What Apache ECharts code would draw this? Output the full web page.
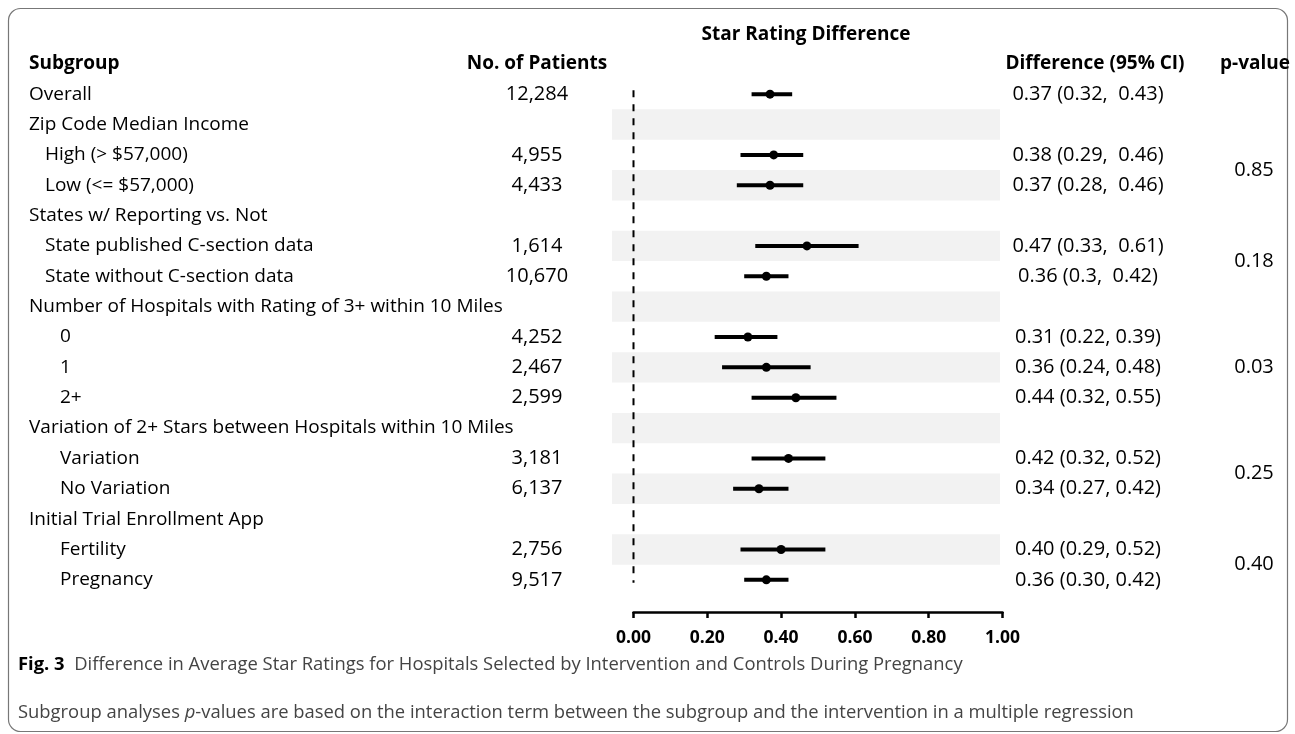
<!DOCTYPE html>
<html>
<head>
<meta charset="utf-8">
<title>Star Rating Difference</title>
<script src="https://cdn.jsdelivr.net/npm/echarts@6/dist/echarts.min.js"></script>
<style>
html, body { margin: 0; padding: 0; background: #fff; }
#chart { width: 1295px; height: 734px; }
</style>
</head>
<body>
<div id="chart"></div>
<script>
// rows, top to bottom
var subgroups = ['Overall', 'Zip Code Median Income', 'High (> $57,000)', 'Low (<= $57,000)',
  'States w/ Reporting vs. Not', 'State published C-section data', 'State without C-section data',
  'Number of Hospitals with Rating of 3+ within 10 Miles', '0', '1', '2+',
  'Variation of 2+ Stars between Hospitals within 10 Miles', 'Variation', 'No Variation',
  'Initial Trial Enrollment App', 'Fertility', 'Pregnancy'];
var indent = [0, 0, 1, 1, 0, 1, 1, 0, 2, 2, 2, 0, 2, 2, 0, 2, 2];
var patients = ['12,284', '', '4,955', '4,433', '', '1,614', '10,670', '', '4,252', '2,467', '2,599',
  '', '3,181', '6,137', '', '2,756', '9,517'];
var estimate = [0.37, null, 0.38, 0.37, null, 0.47, 0.36, null, 0.31, 0.36, 0.44, null, 0.42, 0.34, null, 0.40, 0.36];
var lower    = [0.32, null, 0.29, 0.28, null, 0.33, 0.30, null, 0.22, 0.24, 0.32, null, 0.32, 0.27, null, 0.29, 0.30];
var upper    = [0.43, null, 0.46, 0.46, null, 0.61, 0.42, null, 0.39, 0.48, 0.55, null, 0.52, 0.42, null, 0.52, 0.42];
var diffLabels = ['0.37 (0.32,  0.43)', '', '0.38 (0.29,  0.46)', '0.37 (0.28,  0.46)', '',
  '0.47 (0.33,  0.61)', '0.36 (0.3,  0.42)', '', '0.31 (0.22, 0.39)', '0.36 (0.24, 0.48)',
  '0.44 (0.32, 0.55)', '', '0.42 (0.32, 0.52)', '0.34 (0.27, 0.42)', '', '0.40 (0.29, 0.52)',
  '0.36 (0.30, 0.42)'];
var pValues = ['0.85', '0.18', '0.03', '0.25', '0.40'];
var pRowFrom = [2, 5, 9, 12, 15];
var pRowTo   = [3, 6, 9, 13, 16];
var shadedRows = [1, 3, 5, 7, 9, 11, 13, 15];

var FONT = '"Open Sans", sans-serif';
var TXT = 19;   // subgroup names, headers
var NUM = 20;   // number columns

var forestData = [];
for (var i = 0; i < subgroups.length; i++) {
  if (estimate[i] != null) forestData.push([lower[i], upper[i], estimate[i], i]);
}

var myChart = echarts.init(document.getElementById('chart'));

function labelAxis(pos, margin, align, size, fmt) {
  return {
    type: 'category', data: subgroups, inverse: true, position: pos, gridIndex: 0,
    axisLine: { show: false }, axisTick: { show: false }, splitLine: { show: false },
    axisLabel: {
      interval: 0, margin: margin, align: align, color: '#000',
      fontFamily: FONT, fontSize: size, formatter: fmt,
      rich: {
        l0: { fontFamily: FONT, fontSize: size, color: '#000' },
        l1: { fontFamily: FONT, fontSize: size, color: '#000', padding: [0, 0, 0, 16] },
        l2: { fontFamily: FONT, fontSize: size, color: '#000', padding: [0, 0, 0, 31] }
      }
    }
  };
}

function header(text, x, y, align) {
  return { type: 'text', x: x, y: y, silent: true, style: {
    text: text, fontFamily: FONT, fontWeight: 'bold', fontSize: TXT, fill: '#000',
    align: align, verticalAlign: 'middle', textAlign: align, textVerticalAlign: 'middle' } };
}

var option = {
  animation: false,
  grid: { left: 633.5, right: 292.5, top: 79, height: 516, outerBoundsMode: 'none' },
  xAxis: {
    type: 'value', min: 0, max: 1, interval: 0.2, offset: 17,
    axisLine: { show: true, lineStyle: { color: '#000', width: 2.5 } },
    axisTick: { show: true, length: 6, lineStyle: { color: '#000', width: 2.5 } },
    splitLine: { show: false },
    axisLabel: {
      margin: 17, color: '#000', fontFamily: FONT, fontWeight: 'bold', fontSize: 17.5,
      formatter: function (v) { return v.toFixed(2); }
    }
  },
  yAxis: [
    labelAxis('left', 604.5, 'left', TXT, function (v, i) { return '{l' + indent[i] + '|' + v + '}'; }),
    labelAxis('left', 96.5, 'center', NUM, function (v, i) { return patients[i]; }),
    labelAxis('right', 85.5, 'center', NUM, function (v, i) { return diffLabels[i]; })
  ],
  series: [
    {
      // grey stripes behind alternate rows
      type: 'custom', yAxisIndex: 0, z: 1, silent: true,
      data: shadedRows.map(function (r) { return [0, r]; }),
      renderItem: function (params, api) {
        var c = api.coord([0, api.value(1)]);
        var h = api.size([0, 1])[1];
        return { type: 'rect', shape: { x: 612, y: c[1] - h / 2, width: 388, height: h },
          style: { fill: '#f2f2f2' } };
      }
    },
    {
      // dashed line at zero
      type: 'custom', yAxisIndex: 0, z: 2, silent: true,
      data: [[0, 0]],
      renderItem: function (params, api) {
        var top = api.coord([0, 0]);
        var bot = api.coord([0, subgroups.length - 1]);
        return { type: 'line', shape: { x1: top[0], y1: top[1] - 4, x2: bot[0], y2: bot[1] + 3 },
          style: { stroke: '#000', lineWidth: 2, lineDash: [7, 7] } };
      }
    },
    {
      type: 'custom', yAxisIndex: 0, z: 3,
      encode: { x: [0, 1, 2], y: 3 },
      data: forestData,
      renderItem: function (params, api) {
        var row = api.value(3);
        var a = api.coord([api.value(0), row]);
        var b = api.coord([api.value(1), row]);
        var c = api.coord([api.value(2), row]);
        return { type: 'group', children: [
          { type: 'line', shape: { x1: a[0], y1: a[1], x2: b[0], y2: b[1] },
            style: { stroke: '#000', lineWidth: 4 } },
          { type: 'circle', shape: { cx: c[0], cy: c[1], r: 4.5 }, style: { fill: '#000' } }
        ] };
      }
    },
    {
      // p-values sit between the rows of their group
      type: 'custom', yAxisIndex: 0, z: 3, silent: true,
      data: pValues.map(function (p, k) { return [0, pRowFrom[k], pRowTo[k]]; }),
      renderItem: function (params, api) {
        var y1 = api.coord([0, api.value(1)])[1];
        var y2 = api.coord([0, api.value(2)])[1];
        return { type: 'text', x: 1254, y: (y1 + y2) / 2,
          style: { text: pValues[params.dataIndex], fontFamily: FONT, fontSize: NUM, fill: '#000',
            align: 'center', verticalAlign: 'middle', textAlign: 'center', textVerticalAlign: 'middle' } };
      }
    }
  ],
  graphic: [
    { type: 'rect', shape: { x: 8.5, y: 8.5, width: 1279, height: 723, r: 12 },
      style: { fill: 'none', stroke: '#777', lineWidth: 1.2 }, silent: true },
    header('Star Rating Difference', 806, 35, 'center'),
    header('Subgroup', 29, 64, 'left'),
    header('No. of Patients', 537, 64, 'center'),
    header('Difference (95% CI)', 1095, 64, 'center'),
    header('p-value', 1255, 64, 'center'),
    { type: 'text', x: 18, y: 665, silent: true, style: {
      text: '{b|Fig. 3}  Difference in Average Star Ratings for Hospitals Selected by Intervention and Controls During Pregnancy',
      fontFamily: FONT, fontSize: 18.4, fill: '#444', verticalAlign: 'middle', textVerticalAlign: 'middle',
      rich: { b: { fontFamily: FONT, fontSize: 18.4, fontWeight: 'bold', fill: '#000' } } } },
    { type: 'text', x: 18, y: 713, silent: true, style: {
      text: 'Subgroup analyses {i|p}-values are based on the interaction term between the subgroup and the intervention in a multiple regression',
      fontFamily: FONT, fontSize: 18.4, fill: '#444', verticalAlign: 'middle', textVerticalAlign: 'middle',
      rich: { i: { fontFamily: FONT, fontSize: 18.4, fontStyle: 'italic', fill: '#444' } } } }
  ]
};
myChart.setOption(option);
</script>
</body>
</html>
